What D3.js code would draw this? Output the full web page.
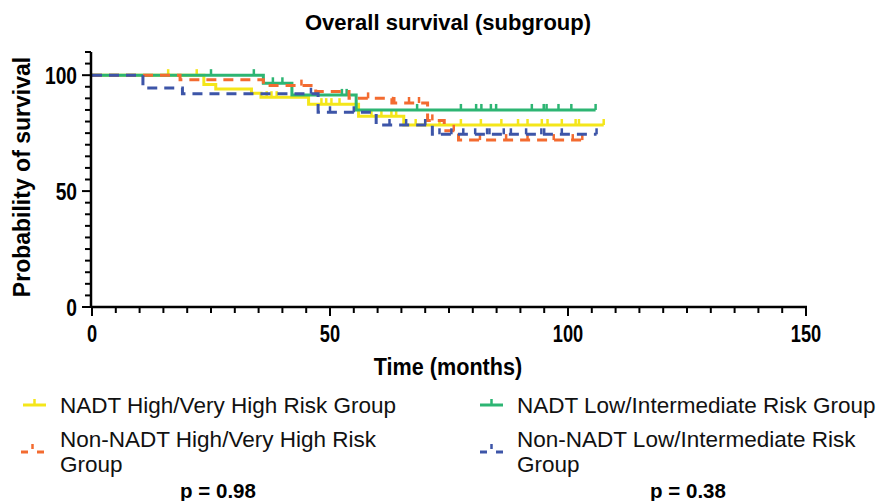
<!DOCTYPE html>
<html>
<head>
<meta charset="utf-8">
<script src="https://cdn.jsdelivr.net/npm/d3@7"></script>
<style>
  body { margin: 0; background: #fff; }
  text { font-family: "Liberation Sans", Arial, sans-serif; }
</style>
</head>
<body>
<div id="chart"></div>
<script>
// step points: [time, survival %] (value after the step)
const nadtHighSteps = [[0, 100], [23.5, 96], [26, 94], [33.5, 92.2], [35.5, 90.5], [45.5, 87.5], [56, 82.3], [65.5, 78.5]];
const nadtHighEnd = 107.5;
const nadtHighCens = [16, 22, 36.7, 37.7, 38.8, 48.2, 49.2, 50.3, 52, 58.7, 60.8, 62.9, 63.9, 68, 70, 73, 77.5, 81.7, 86, 89.5, 91.5, 94.5, 95.7, 98.7, 101.6, 102.3, 107.5];

const nadtLowSteps = [[0, 100], [36, 96.5], [42, 91.5], [55.5, 85]];
const nadtLowEnd = 105.8;
const nadtLowCens = [25, 34, 38, 40, 52.5, 53.5, 68.3, 77.5, 80.7, 81.8, 83.8, 84.9, 92.4, 94.9, 95.5, 98, 100.7, 105.8];

const nonHighSteps = [[0, 100], [18.5, 98], [36, 95.5], [47, 93], [54, 90], [63, 88], [70.5, 80.5], [74, 76], [77, 72]];
const nonHighEnd = 103;
const nonHighCens = [44, 58, 63.5, 66.6, 68.7, 71.5, 76, 81.5, 87, 91.5, 97, 101, 103];

const nonLowSteps = [[0, 100], [10.7, 94.5], [19, 92], [47.5, 84], [59.7, 78.5], [71.5, 74.5]];
const nonLowEnd = 106;
const nonLowCens = [46, 50, 55, 62.5, 66, 70, 73, 75.5, 78, 80.5, 83, 83.5, 86.5, 88, 91.2, 94.4, 95, 98.7, 106];

const xTicks = [0, 50, 100, 150];
const yTicks = [0, 50, 100];

const groups = [
  { name: "NADT High/Very High Risk Group", steps: nadtHighSteps, end: nadtHighEnd, cens: nadtHighCens, color: "#f4e61a", dash: null },
  { name: "NADT Low/Intermediate Risk Group", steps: nadtLowSteps, end: nadtLowEnd, cens: nadtLowCens, color: "#2db573", dash: null },
  { name: "Non-NADT High/Very High Risk Group", steps: nonHighSteps, end: nonHighEnd, cens: nonHighCens, color: "#f36b30", dash: "10,7" },
  { name: "Non-NADT Low/Intermediate Risk Group", steps: nonLowSteps, end: nonLowEnd, cens: nonLowCens, color: "#3d55a8", dash: "10,7" },
];

const W = 881, H = 501;
const svg = d3.select("#chart").append("svg").attr("width", W).attr("height", H);

const x = d3.scaleLinear().domain([0, 150]).range([92, 806]);
const y = d3.scaleLinear().domain([0, 110]).range([307, 52]);

// title
svg.append("text").attr("x", 448).attr("y", 30).attr("text-anchor", "middle")
  .attr("font-size", 22).attr("font-weight", "bold").text("Overall survival (subgroup)");

// curves
const line = d3.line().x(d => x(d[0])).y(d => y(d[1])).curve(d3.curveStepAfter);
function survAt(steps, t) {
  let v = steps[0][1];
  steps.forEach(s => { if (s[0] <= t) v = s[1]; });
  return v;
}

groups.forEach(g => {
  const pts = g.steps.concat([[g.end, g.steps[g.steps.length - 1][1]]]);
  svg.append("path").attr("d", line(pts)).attr("fill", "none")
    .attr("stroke", g.color).attr("stroke-width", 3)
    .attr("stroke-dasharray", g.dash);
  svg.selectAll(null).data(g.cens).enter().append("line")
    .attr("x1", d => x(d)).attr("x2", d => x(d))
    .attr("y1", d => y(survAt(g.steps, d)))
    .attr("y2", d => y(survAt(g.steps, d)) - 6)
    .attr("stroke", g.color).attr("stroke-width", 2.5);
});

// axes
const xAxis = svg.append("g").attr("transform", "translate(0,307)");
xAxis.append("line").attr("x1", x(0) - 1).attr("x2", x(150) + 1).attr("stroke", "#000").attr("stroke-width", 2.5);
xAxis.selectAll(".minor").data(d3.range(0, 151, 5)).enter().append("line")
  .attr("x1", d => x(d)).attr("x2", d => x(d)).attr("y1", 0)
  .attr("y2", d => d % 50 === 0 ? 9 : 6).attr("stroke", "#000").attr("stroke-width", 2);
xAxis.selectAll(".lab").data(xTicks).enter().append("text")
  .attr("transform", d => `translate(${x(d)},35) scale(0.76,1)`).attr("text-anchor", "middle")
  .attr("font-size", 24).attr("font-weight", "bold").text(d => d);

const yAxis = svg.append("g").attr("transform", "translate(91,0)");
yAxis.append("line").attr("y1", y(0) + 1).attr("y2", y(110)).attr("stroke", "#000").attr("stroke-width", 2.5);
yAxis.selectAll(".minor").data(d3.range(0, 111, 5)).enter().append("line")
  .attr("y1", d => y(d)).attr("y2", d => y(d)).attr("x1", 0)
  .attr("x2", d => d % 50 === 0 ? -9 : -6).attr("stroke", "#000").attr("stroke-width", 2);
yAxis.selectAll(".lab").data(yTicks).enter().append("text")
  .attr("transform", d => `translate(-14,${y(d) + 8.5}) scale(0.8,1)`).attr("text-anchor", "end")
  .attr("font-size", 24).attr("font-weight", "bold").text(d => d);

svg.append("text").attr("transform", "translate(448,375) scale(0.9,1)").attr("text-anchor", "middle")
  .attr("font-size", 24).attr("font-weight", "bold").text("Time (months)");
svg.append("text").attr("transform", "translate(30,177) rotate(-90)").attr("text-anchor", "middle")
  .attr("font-size", 23).attr("font-weight", "bold").text("Probability of survival");

// legend
const legendPos = [
  { x: 23, y: 405, tx: 60, lines: ["NADT High/Very High Risk Group"] },
  { x: 480, y: 405, tx: 517, lines: ["NADT Low/Intermediate Risk Group"] },
  { x: 21, y: 452, tx: 60, lines: ["Non-NADT High/Very High Risk", "Group"] },
  { x: 480, y: 452, tx: 517, lines: ["Non-NADT Low/Intermediate Risk", "Group"] },
];
groups.forEach((g, i) => {
  const p = legendPos[i];
  const lg = svg.append("g");
  if (g.dash) {
    lg.append("line").attr("x1", p.x).attr("x2", p.x + 7).attr("y1", p.y).attr("y2", p.y).attr("stroke", g.color).attr("stroke-width", 3);
    lg.append("line").attr("x1", p.x + 16).attr("x2", p.x + 23).attr("y1", p.y).attr("y2", p.y).attr("stroke", g.color).attr("stroke-width", 3);
    lg.append("line").attr("x1", p.x + 11.5).attr("x2", p.x + 11.5).attr("y1", p.y - 3).attr("y2", p.y - 8).attr("stroke", g.color).attr("stroke-width", 2.5);
  } else {
    lg.append("line").attr("x1", p.x).attr("x2", p.x + 23).attr("y1", p.y).attr("y2", p.y).attr("stroke", g.color).attr("stroke-width", 3);
    lg.append("line").attr("x1", p.x + 11.5).attr("x2", p.x + 11.5).attr("y1", p.y).attr("y2", p.y - 6).attr("stroke", g.color).attr("stroke-width", 2.5);
  }
  p.lines.forEach((t, j) => {
    lg.append("text").attr("x", p.tx).attr("y", p.y + 8 + j * 25 - (p.lines.length > 1 ? 13 : 0))
      .attr("font-size", 22.5).attr("fill", "#111").text(t);
  });
});

svg.append("text").attr("x", 218).attr("y", 498).attr("text-anchor", "middle")
  .attr("font-size", 20.5).attr("font-weight", "bold").text("p = 0.98");
svg.append("text").attr("x", 688).attr("y", 498).attr("text-anchor", "middle")
  .attr("font-size", 20.5).attr("font-weight", "bold").text("p = 0.38");
</script>
</body>
</html>
